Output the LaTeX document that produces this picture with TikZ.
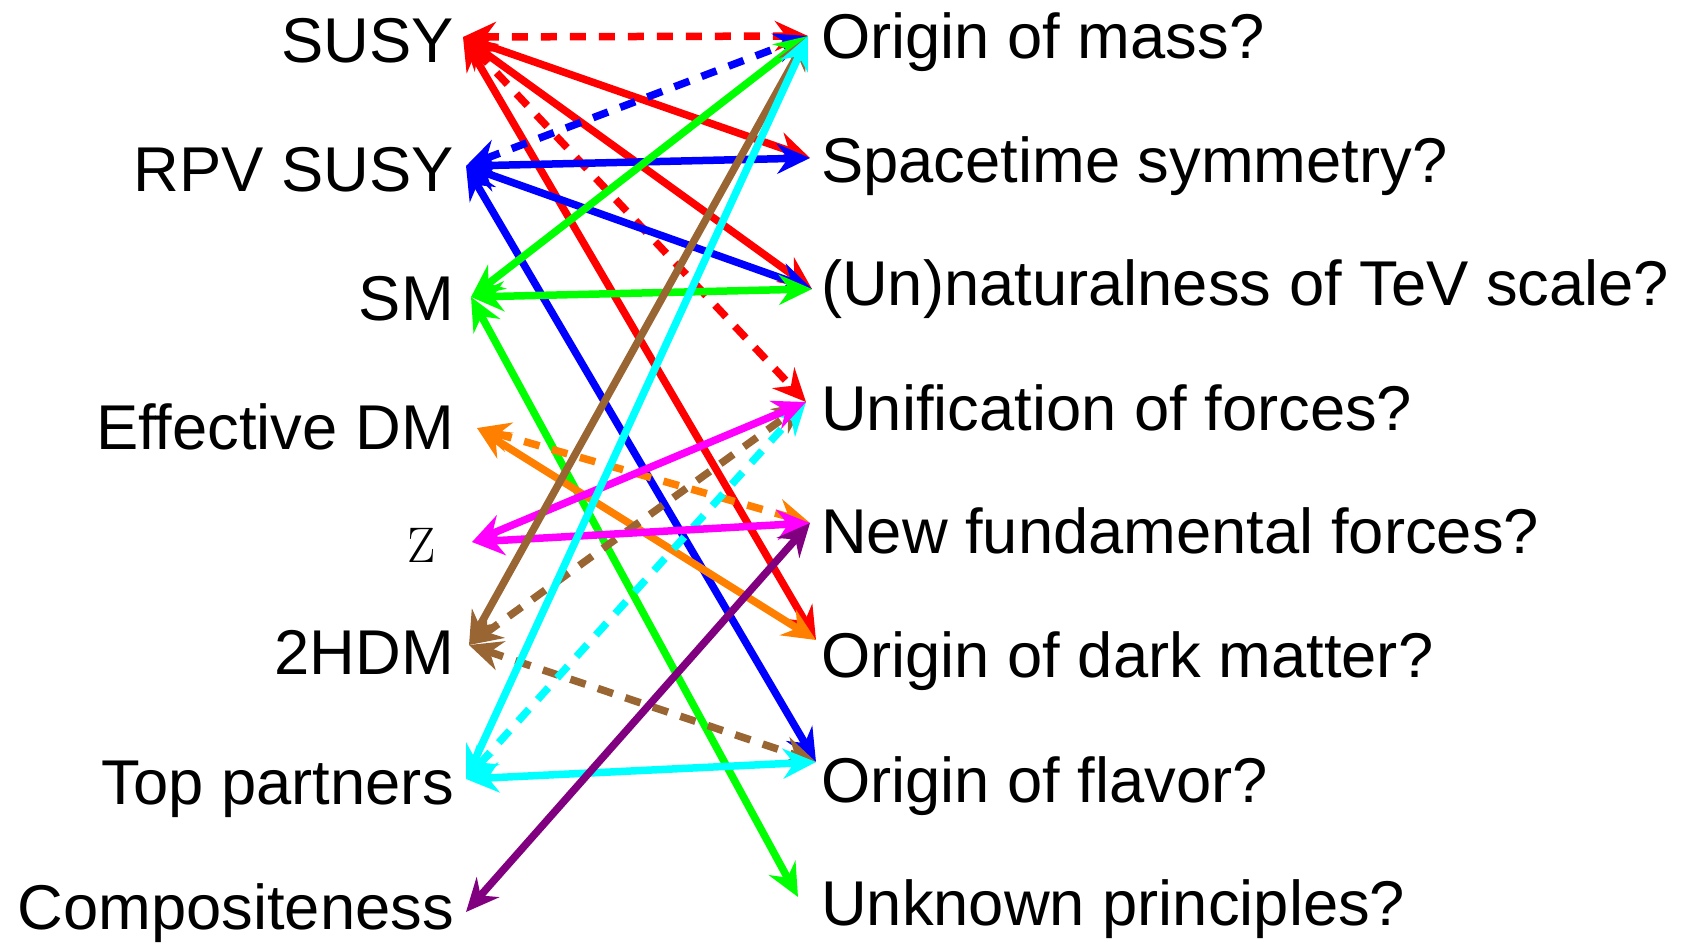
\documentclass[tikz,border=0pt]{standalone}
\usepackage{fontspec}
\newfontfamily\arialf{Liberation Sans}
\usetikzlibrary{arrows.meta}
\definecolor{cred}{RGB}{255,0,0}
\definecolor{cblue}{RGB}{0,0,255}
\definecolor{cgreen}{RGB}{0,255,0}
\definecolor{corange}{RGB}{255,128,0}
\definecolor{cmag}{RGB}{255,0,255}
\definecolor{cbrown}{RGB}{153,102,51}
\definecolor{ccyan}{RGB}{0,255,255}
\definecolor{cpurple}{RGB}{128,0,128}
\begin{document}
\begin{tikzpicture}[x=1pt,y=-1pt,
  lbl/.style={inner sep=0pt,font=\arialf\fontsize{63.3}{70}\selectfont},
  lleft/.style={lbl,anchor=base east},
  lright/.style={lbl,anchor=base west},
  link/.style={line width=7.5pt,
    {Stealth[length=33pt,width=30pt,inset=11pt]}-{Stealth[length=33pt,width=30pt,inset=11pt]}},
  dlink/.style={link,dash pattern=on 16pt off 13pt}]
\useasboundingbox (0,0) rectangle (1688,943);

% left labels
\node[lleft] (susy) at (454,62) {SUSY};
\node[lleft] (rpv) at (454,191) {RPV SUSY};
\node[lleft] (sm) at (454,320) {SM};
\node[lleft] (edm) at (454,449) {Effective DM};
\node[inner sep=0pt,anchor=base east,font=\fontsize{50}{60}\selectfont] (z) at (436,562) {Z};
\node[lleft] (hdm) at (454,674) {2HDM};
\node[lleft] (top) at (454,804) {Top partners};
\node[lleft] (comp) at (454,929) {Compositeness};

% right labels
\node[lright] (mass) at (821,58) {Origin of mass?};
\node[lright] (space) at (821,182) {Spacetime symmetry?};
\node[lright] (unnat) at (821,305) {(Un)naturalness of TeV scale?};
\node[lright] (unif) at (821,430) {Unification of forces?};
\node[lright] (newf) at (821,553) {New fundamental forces?};
\node[lright] (dark) at (821,677) {Origin of dark matter?};
\node[lright] (flav) at (821,802) {Origin of flavor?};
\node[lright] (unkn) at (821,925) {Unknown principles?};

% ports
\coordinate (pSusy) at (463,37);
\coordinate (pRpv) at (466,166);
\coordinate (pSm) at (471,297);
\coordinate (pEdm) at (477,428);
\coordinate (pZ) at (472,542);
\coordinate (pHdm) at (469,645);
\coordinate (pTop) at (466,779);
\coordinate (pComp) at (466,912);

\coordinate (pMass) at (808,36);
\coordinate (pSpace) at (810,158);
\coordinate (pUnnat) at (812,289);
\coordinate (pUnif) at (806,402);
\coordinate (pNewf) at (810,523);
\coordinate (pDark) at (816,640);
\coordinate (pFlav) at (816,762);
\coordinate (pUnkn) at (798,897);

% connectors
\draw[link,cgreen] (pSm) -- (pUnkn);
\draw[link,cblue] (pRpv) -- (pFlav);
\draw[link,cred] (pSusy) -- (pDark);
\draw[link,corange] (pEdm) -- (pDark);
\draw[dlink,corange] (pEdm) -- (pNewf);
\draw[dlink,cbrown] (pHdm) -- (pFlav);
\draw[dlink,cbrown] (pHdm) -- (pUnif);
\draw[dlink,ccyan] (pTop) -- (pUnif);
\draw[link,cmag] (pZ) -- (pUnif);
\draw[link,cmag] (pZ) -- (pNewf);
\draw[dlink,cred] (pSusy) -- (pUnif);
\draw[link,cred] (pSusy) -- (pSpace);
\draw[link,cred] (pSusy) -- (pUnnat);
\draw[dlink,cred] (pSusy) -- (pMass);
\draw[dlink,cblue] (pRpv) -- (pMass);
\draw[link,cblue] (pRpv) -- (pSpace);
\draw[link,cblue] (pRpv) -- (pUnnat);
\draw[link,cgreen] (pSm) -- (pUnnat);
\draw[link,cgreen] (pSm) -- (pMass);
\draw[link,cbrown] (pHdm) -- (pMass);
\draw[link,ccyan] (pTop) -- (pMass);
\draw[link,ccyan] (pTop) -- (pFlav);
\draw[link,cpurple] (pComp) -- (pNewf);
\end{tikzpicture}
\end{document}
